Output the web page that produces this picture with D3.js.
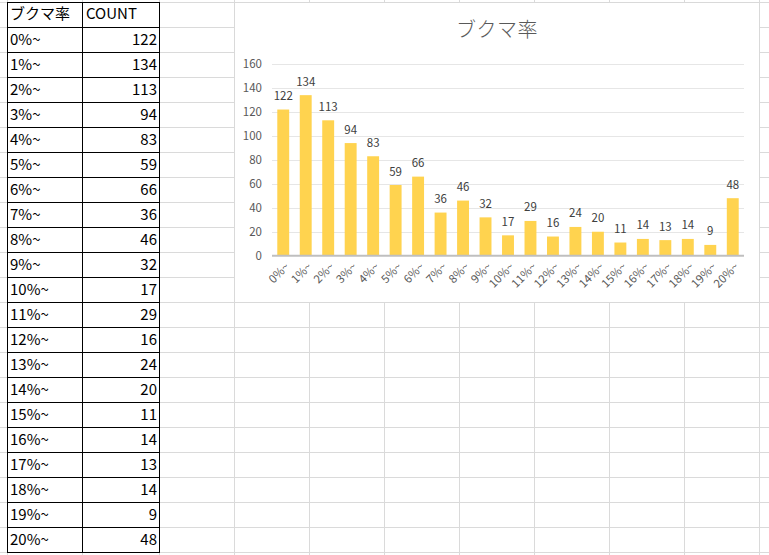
<!DOCTYPE html>
<html>
<head>
<meta charset="utf-8">
<script src="https://cdn.jsdelivr.net/npm/d3@7"></script>
<style>
  body { margin: 0; background: #fff; }
  text { font-family: "Noto Sans CJK JP", "Noto Sans", sans-serif; }
</style>
</head>
<body>
<script>
// data read from the sheet
const categories = ['0%~', '1%~', '2%~', '3%~', '4%~', '5%~', '6%~', '7%~', '8%~', '9%~', '10%~',
  '11%~', '12%~', '13%~', '14%~', '15%~', '16%~', '17%~', '18%~', '19%~', '20%~'];
const counts = [122, 134, 113, 94, 83, 59, 66, 36, 46, 32, 17, 29, 16, 24, 20, 11, 14, 13, 14, 9, 48];
const yTicks = [0, 20, 40, 60, 80, 100, 120, 140, 160];
const headers = ['ブクマ率', 'COUNT'];
const title = 'ブクマ率';

const width = 769, height = 555;

let svg = d3.select('body')
  .append('svg')
  .attr('width', width)
  .attr('height', height)
  .style('display', 'block');

// spreadsheet grid: column and row lines of the sheet
const cols = [7.5, 82.5, 159.5, 234.5, 309.5, 384.5, 459.5, 534.5, 609.5, 684.5, 759.5];
const rows = d3.range(0, 23).map((k) => 2.5 + 25 * k);

let grid = svg.append('g').attr('stroke', '#dadada').attr('stroke-width', 1);
grid.selectAll('line.h')
  .data(rows)
  .enter()
  .append('line')
  .attr('x1', 0).attr('x2', width)
  .attr('y1', (d) => d).attr('y2', (d) => d);
grid.selectAll('line.v')
  .data(cols)
  .enter()
  .append('line')
  .attr('x1', (d) => d).attr('x2', (d) => d)
  .attr('y1', 0).attr('y2', height);

// the table
let table = svg.append('g');
table.selectAll('line.row')
  .data(rows)
  .enter()
  .append('line')
  .attr('x1', 7).attr('x2', 160)
  .attr('y1', (d) => d).attr('y2', (d) => d)
  .attr('stroke', '#000');
table.selectAll('line.col')
  .data(cols.slice(0, 3))
  .enter()
  .append('line')
  .attr('x1', (d) => d).attr('x2', (d) => d)
  .attr('y1', 2).attr('y2', 553)
  .attr('stroke', '#000');

table.append('text').attr('x', 10).attr('y', 19).style('font-size', '15px').text(headers[0]);
table.append('text').attr('x', 86).attr('y', 19).style('font-size', '15px').text(headers[1]);

categories.forEach(function (c, i) {
  let top = 27 + 25 * i;
  table.append('text')
    .attr('x', 10)
    .attr('y', top + 18)
    .style('font-size', '15px')
    .text(c);
  table.append('text')
    .attr('x', 157)
    .attr('y', top + 18)
    .attr('text-anchor', 'end')
    .style('font-size', '15px')
    .text(counts[i]);
});

// chart box
let chart = svg.append('g');
chart.append('rect')
  .attr('x', 234.5).attr('y', 2.5)
  .attr('width', 525).attr('height', 300)
  .attr('fill', '#fff')
  .attr('stroke', '#d9d9d9');

chart.append('text')
  .attr('x', 497)
  .attr('y', 37)
  .attr('text-anchor', 'middle')
  .style('font-size', '20px')
  .style('font-weight', 300)
  .style('letter-spacing', '0.5px')
  .attr('fill', '#595959')
  .text(title);

const x = d3.scaleBand()
  .domain(categories)
  .range([272, 744])
  .paddingInner(0.47)
  .paddingOuter(0.235);

const y = d3.scaleLinear().domain([0, 160]).range([255.7, 64]);

// horizontal gridlines
chart.append('g')
  .selectAll('line')
  .data(yTicks.slice(1))
  .enter()
  .append('line')
  .attr('x1', 272).attr('x2', 744)
  .attr('y1', (d) => Math.round(y(d)) + 0.5)
  .attr('y2', (d) => Math.round(y(d)) + 0.5)
  .attr('stroke', '#e6e6e6');

// y axis labels
let yAxis = chart.append('g')
  .attr('transform', 'translate(262,0)')
  .call(d3.axisLeft(y).tickValues(yTicks).tickSize(0).tickPadding(0));
yAxis.select('.domain').remove();
yAxis.selectAll('text')
  .style('font-family', '"Noto Sans CJK JP", sans-serif')
  .style('font-size', '11.5px')
  .attr('fill', '#595959');

// bars
chart.append('g')
  .selectAll('rect')
  .data(counts)
  .enter()
  .append('rect')
  .attr('x', (d, i) => x(categories[i]))
  .attr('y', (d) => y(d))
  .attr('width', x.bandwidth())
  .attr('height', (d) => y(0) - y(d))
  .attr('fill', '#ffd34f');

// data labels
chart.append('g')
  .selectAll('text')
  .data(counts)
  .enter()
  .append('text')
  .attr('x', (d, i) => x(categories[i]) + x.bandwidth() / 2)
  .attr('y', (d) => y(d) - 9.5)
  .attr('text-anchor', 'middle')
  .style('font-size', '11.5px')
  .attr('fill', '#404040')
  .text((d) => d);

// x axis
let xAxis = chart.append('g')
  .attr('transform', 'translate(0,' + y(0) + ')')
  .call(d3.axisBottom(x).tickSize(0).tickPadding(0));
xAxis.select('.domain')
  .attr('stroke', '#bfbfbf')
  .attr('stroke-width', 2)
  .attr('d', 'M272,0H744');
xAxis.selectAll('text')
  .style('font-family', '"Noto Sans CJK JP", sans-serif')
  .style('font-size', '11.5px')
  .attr('fill', '#595959')
  .attr('text-anchor', 'end')
  .attr('dy', '0.35em')
  .attr('transform', 'translate(4,9) rotate(-45)');
</script>
</body>
</html>
